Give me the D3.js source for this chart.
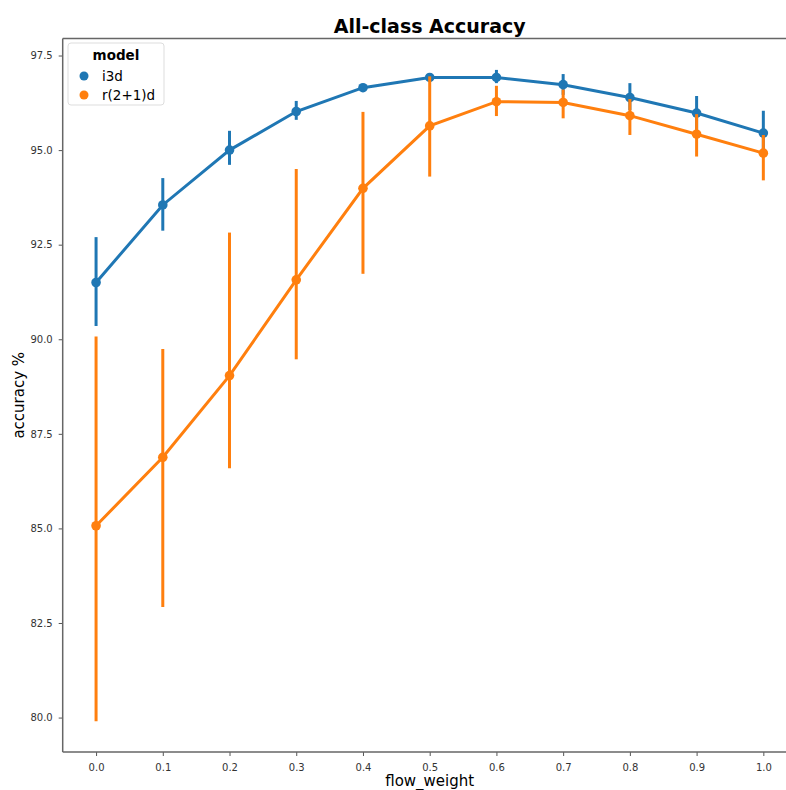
<!DOCTYPE html>
<html>
<head>
<meta charset="utf-8">
<script src="https://cdn.jsdelivr.net/npm/d3@7"></script>
<style>
  body { margin: 0; background: #fff; overflow: hidden; }
  svg { font-family: "DejaVu Sans", sans-serif; display: block; }
</style>
</head>
<body>
<svg id="chart" width="786" height="790"></svg>
<script>
// flow_weight categories
var flowWeights = ["0.0", "0.1", "0.2", "0.3", "0.4", "0.5", "0.6", "0.7", "0.8", "0.9", "1.0"];

// i3d: mean accuracy and confidence interval
var i3dMean = [91.5, 93.55, 95.0, 96.02, 96.65, 96.92, 96.92, 96.73, 96.39, 95.98, 95.45];
var i3dLow  = [90.35, 92.87, 94.61, 95.8, 96.58, 96.85, 96.77, 96.46, 96.06, 95.54, 94.93];
var i3dHigh = [92.7, 94.26, 95.51, 96.3, 96.72, 97.0, 97.12, 97.01, 96.77, 96.43, 96.04];

// r(2+1)d
var r21dMean = [85.07, 86.88, 89.04, 91.57, 93.99, 95.64, 96.28, 96.26, 95.91, 95.42, 94.92];
var r21dLow  = [79.9, 82.92, 86.59, 89.47, 91.73, 94.3, 95.9, 95.84, 95.4, 94.83, 94.2];
var r21dHigh = [90.07, 89.74, 92.82, 94.5, 96.01, 96.95, 96.7, 96.6, 96.35, 95.95, 95.4];

var yTicks = [80.0, 82.5, 85.0, 87.5, 90.0, 92.5, 95.0, 97.5];

var models = [
    { name: "i3d", color: "#1f77b4", mean: i3dMean, low: i3dLow, high: i3dHigh },
    { name: "r(2+1)d", color: "#ff7f0e", mean: r21dMean, low: r21dLow, high: r21dHigh }
];

var svg = d3.select("#chart");

// plot area (right side runs past the window, as in the original)
var plotLeft = 62.7, plotRight = 796.7, plotTop = 38.5, plotBottom = 752;

var x = d3.scalePoint().domain(flowWeights).range([plotLeft, plotRight]).padding(0.5);
var y = d3.scaleLinear().domain([79.09, 97.95]).range([plotBottom, plotTop]);

// axes
var xAxis = svg.append("g")
    .attr("transform", "translate(0," + plotBottom + ")")
    .call(d3.axisBottom(x).tickSize(4).tickPadding(8).tickSizeOuter(0));
var yAxis = svg.append("g")
    .attr("transform", "translate(" + plotLeft + ",0)")
    .call(d3.axisLeft(y).tickValues(yTicks).tickFormat(d3.format(".1f")).tickSize(4).tickPadding(6).tickSizeOuter(0));

[xAxis, yAxis].forEach(function (a) {
    a.select(".domain").remove();
    a.selectAll(".tick line").attr("stroke", "#555").attr("stroke-width", 1);
    a.selectAll(".tick text").attr("fill", "#333").style("font-size", "10px")
        .style("font-family", "DejaVu Sans, sans-serif");
});

// spines: left, top, bottom (right one is outside the window)
var spines = svg.append("g").attr("stroke", "#666").attr("stroke-width", 1.5);
spines.append("line").attr("x1", plotLeft).attr("x2", plotLeft).attr("y1", plotTop).attr("y2", plotBottom);
spines.append("line").attr("x1", plotLeft).attr("x2", plotRight).attr("y1", plotTop).attr("y2", plotTop);
spines.append("line").attr("x1", plotLeft).attr("x2", plotRight).attr("y1", plotBottom).attr("y2", plotBottom);

var line = d3.line()
    .x(function (d) { return x(d.k); })
    .y(function (d) { return y(d.v); });

models.forEach(function (m) {
    var pts = flowWeights.map(function (k, i) {
        return { k: k, v: m.mean[i], lo: m.low[i], hi: m.high[i] };
    });
    var g = svg.append("g");
    g.selectAll("line.err").data(pts).enter().append("line")
        .attr("x1", function (d) { return x(d.k); })
        .attr("x2", function (d) { return x(d.k); })
        .attr("y1", function (d) { return y(d.lo); })
        .attr("y2", function (d) { return y(d.hi); })
        .attr("stroke", m.color).attr("stroke-width", 3);
    g.append("path")
        .attr("d", line(pts))
        .attr("fill", "none").attr("stroke", m.color).attr("stroke-width", 3);
    g.selectAll("circle").data(pts).enter().append("circle")
        .attr("cx", function (d) { return x(d.k); })
        .attr("cy", function (d) { return y(d.v); })
        .attr("r", 4.8)
        .attr("fill", m.color);
});

// title and labels
svg.append("text")
    .attr("x", (plotLeft + plotRight) / 2).attr("y", 33)
    .attr("text-anchor", "middle")
    .style("font-size", "19px").style("font-weight", "bold")
    .text("All-class Accuracy");

svg.append("text")
    .attr("x", (plotLeft + plotRight) / 2).attr("y", 786)
    .attr("text-anchor", "middle")
    .style("font-size", "15px")
    .text("flow_weight");

svg.append("text")
    .attr("transform", "translate(24," + ((plotTop + plotBottom) / 2) + ") rotate(-90)")
    .attr("text-anchor", "middle")
    .style("font-size", "15px")
    .text("accuracy %");

// legend
var legend = svg.append("g");
legend.append("rect")
    .attr("x", 68).attr("y", 43).attr("width", 96).attr("height", 62)
    .attr("rx", 3)
    .attr("fill", "#fff").attr("fill-opacity", 0.8)
    .attr("stroke", "#ddd");
legend.append("text")
    .attr("x", 116).attr("y", 60)
    .attr("text-anchor", "middle")
    .style("font-size", "13.5px").style("font-weight", "bold")
    .text("model");
models.forEach(function (m, i) {
    legend.append("circle")
        .attr("cx", 84).attr("cy", 76 + i * 19)
        .attr("r", 4.5).attr("fill", m.color);
    legend.append("text")
        .attr("x", 102).attr("y", 80.5 + i * 19)
        .style("font-size", "13.5px")
        .text(m.name);
});
</script>
</body>
</html>
